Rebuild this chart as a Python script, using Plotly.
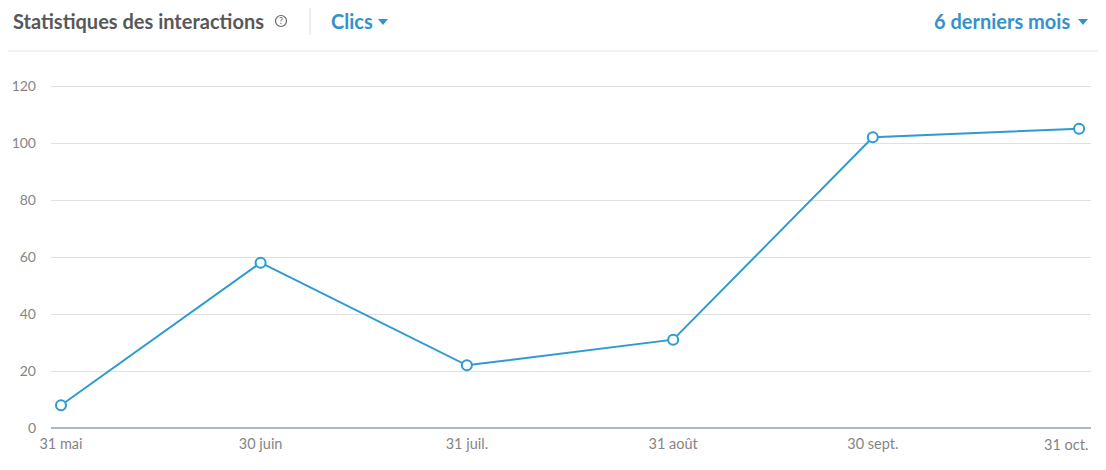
import plotly.graph_objects as go

# data
dates = ["2019-05-31", "2019-06-30", "2019-07-31", "2019-08-31", "2019-09-30", "2019-10-31"]
tick_labels = ["31 mai", "30 juin", "31 juil.", "31 août", "30 sept.", "31 oct."]
clicks = [8, 58, 22, 31, 102, 105]
y_ticks = [0, 20, 40, 60, 80, 100, 120]

# the page body has an 8px margin, so work in window pixels and shift by it
OFF = 8
W, H = 1106 - OFF, 470 - OFF
L, R, T, B = 51 - OFF, 15, 70 - OFF, 42
blue = "#2d9bd2"
head_blue = "#3592c8"
tick_grey = "#858585"
font = "Lato"

fig = go.Figure()
fig.add_trace(go.Scatter(
    x=dates, y=clicks,
    mode="lines+markers",
    line=dict(color=blue, width=2),
    marker=dict(size=10, color="white", line=dict(color=blue, width=2)),
    hoverinfo="x+y",
))

pw = W - L - R
ph = H - T - B


def px_x(x):
    # window pixel -> paper x
    return (x - OFF - L) / pw


def px_y(y):
    # window pixel -> paper y
    return (H - B - (y - OFF)) / ph


fig.update_layout(
    width=W, height=H,
    margin=dict(l=L, r=R, t=T, b=B),
    paper_bgcolor="white",
    plot_bgcolor="white",
    showlegend=False,
    font=dict(family=font, color=tick_grey, size=14),
    xaxis=dict(
        type="date",
        range=["2019-05-29 12:00", "2019-11-01 19:00"],
        tickvals=dates,
        # last label is drawn separately so it stays inside the frame
        ticktext=tick_labels[:-1] + [""],
        showgrid=False,
        showline=False,
        zeroline=False,
        ticks="",
        automargin=False,
        ticklabelstandoff=5,
        tickfont=dict(size=14.5, color=tick_grey),
    ),
    yaxis=dict(
        range=[0, 120 * ph / 342],
        tickvals=y_ticks,
        showgrid=True,
        gridcolor="#e0e0e0",
        gridwidth=1,
        zeroline=True,
        zerolinecolor="#a9b8c6",
        zerolinewidth=1.5,
        ticks="",
        automargin=False,
        ticklabelstandoff=14,
        tickfont=dict(size=14, color=tick_grey),
    ),
)

# last x tick label, right-aligned like the original
fig.add_annotation(x=dates[-1], y=px_y(444), xref="x", yref="paper",
                   text=tick_labels[-1], showarrow=False,
                   xanchor="right", yanchor="middle", xshift=11,
                   font=dict(family=font, size=14.5, color=tick_grey))

# header texts
fig.add_annotation(x=px_x(11), y=px_y(21), xref="paper", yref="paper",
                   text="<b>Statistiques des interactions</b>", showarrow=False,
                   xanchor="left", yanchor="middle",
                   font=dict(family=font, size=20, color="#585858"))
fig.add_annotation(x=px_x(281), y=px_y(21), xref="paper", yref="paper",
                   text="?", showarrow=False, xanchor="center", yanchor="middle",
                   font=dict(family=font, size=9, color="#666666"))
fig.add_annotation(x=px_x(329), y=px_y(21), xref="paper", yref="paper",
                   text="<b>Clics</b>", showarrow=False,
                   xanchor="left", yanchor="middle",
                   font=dict(family=font, size=20, color=head_blue))
fig.add_annotation(x=px_x(1072), y=px_y(21), xref="paper", yref="paper",
                   text="<b>6 derniers mois</b>", showarrow=False,
                   xanchor="right", yanchor="middle",
                   font=dict(family=font, size=20, color=head_blue))

shapes = [
    # header bottom rule
    dict(type="line", xref="paper", yref="paper",
         x0=px_x(OFF), x1=px_x(1106), y0=px_y(51), y1=px_y(51),
         line=dict(color="#e3e3e3", width=1)),
    # vertical divider
    dict(type="line", xref="paper", yref="paper",
         x0=px_x(310), x1=px_x(310), y0=px_y(7), y1=px_y(35),
         line=dict(color="#dddddd", width=1)),
    # help icon circle
    dict(type="circle", xref="paper", yref="paper",
         x0=px_x(275.5), x1=px_x(286.5), y0=px_y(15.5), y1=px_y(26.5),
         line=dict(color="#666666", width=1.2)),
]
# dropdown carets
for cx in (383, 1083):
    x0, x1, xm = px_x(cx - 5), px_x(cx + 5), px_x(cx)
    ya, yb = px_y(19), px_y(25)
    shapes.append(dict(type="path", xref="paper", yref="paper",
                       path=f"M {x0} {ya} L {x1} {ya} L {xm} {yb} Z",
                       fillcolor=head_blue, line=dict(width=0)))
fig.update_layout(shapes=shapes)

fig.write_html("out.html")
